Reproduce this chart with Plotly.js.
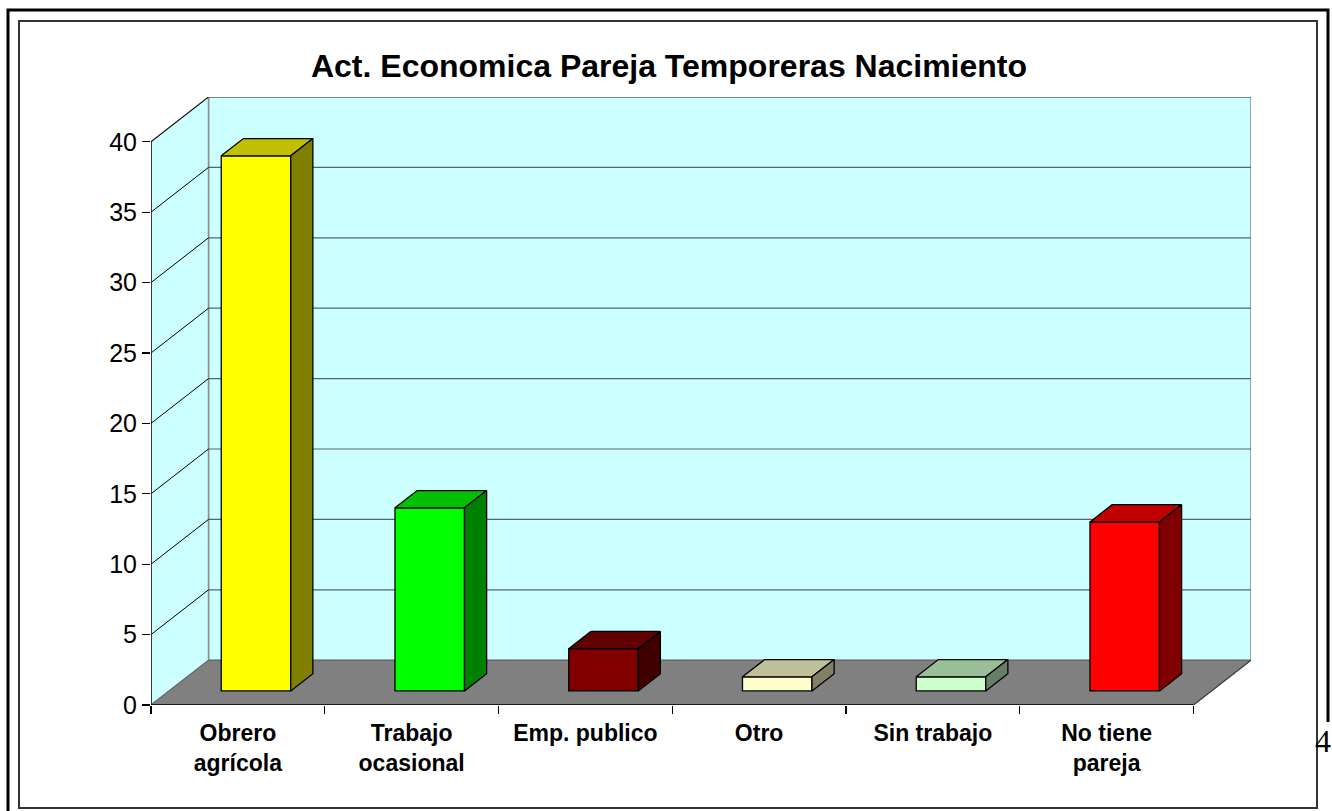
<!DOCTYPE html>
<html>
<head>
<meta charset="utf-8">
<script src="https://cdn.plot.ly/plotly-3.0.1.min.js"></script>
<style>html,body{margin:0;padding:0;background:#fff;}#chart{width:1332px;height:811px;}</style>
</head>
<body>
<div id="chart"></div>
<script>
// ---- data ----
const categories = ["Obrero<br>agrícola", "Trabajo<br>ocasional", "Emp. publico", "Otro", "Sin trabajo", "No tiene<br>pareja"];
const values = [38, 13, 3, 1, 1, 12];
const frontColors = ["#FFFF00", "#00FF00", "#800000", "#FFFFCC", "#CCFFCC", "#FF0000"];
const topColors   = ["#C0C000", "#00C000", "#600000", "#BFBF99", "#99BF99", "#C00000"];
const sideColors  = ["#808000", "#008000", "#400000", "#808066", "#668066", "#800000"];
const yTicks = [0, 5, 10, 15, 20, 25, 30, 35, 40];
const chartTitle = "Act. Economica Pareja Temporeras Nacimiento";

// ---- 3D projection settings ----
const DX = 0.331;   // depth offset along x (category units)
const DY = 3.18;    // depth offset along y (value units)
const YMAX = 40;
const BAR_W = 0.40, BAR_F = 0.315, BAR_D = 0.385;
const X0 = -0.5, X1 = categories.length - 0.5;

const idx = categories.map((_, i) => i);
const traces = [];

// front faces as bars
traces.push({
  type: "bar",
  x: idx.map(i => i + BAR_F * DX),
  y: values,
  base: values.map(() => BAR_F * DY),
  width: BAR_W,
  marker: { color: frontColors, line: { color: "#000", width: 1.3 } },
  hoverinfo: "skip",
  xaxis: "x", yaxis: "y"
});

// top and side faces
values.forEach((v, i) => {
  const xa = i - BAR_W / 2, xb = i + BAR_W / 2;
  const f = BAR_F, b = BAR_F + BAR_D;
  traces.push({
    type: "scatter", mode: "lines", fill: "toself",
    x: [xa + f * DX, xb + f * DX, xb + b * DX, xa + b * DX, xa + f * DX],
    y: [v + f * DY, v + f * DY, v + b * DY, v + b * DY, v + f * DY],
    fillcolor: topColors[i], line: { color: "#000", width: 1.3 },
    hoverinfo: "skip", showlegend: false
  });
  traces.push({
    type: "scatter", mode: "lines", fill: "toself",
    x: [xb + f * DX, xb + b * DX, xb + b * DX, xb + f * DX, xb + f * DX],
    y: [f * DY, b * DY, v + b * DY, v + f * DY, f * DY],
    fillcolor: sideColors[i], line: { color: "#000", width: 1.3 },
    hoverinfo: "skip", showlegend: false
  });
});

// ---- walls, floor, gridlines ----
const shapes = [];
shapes.push({ type: "path", layer: "below", xref: "x", yref: "y",
  path: `M ${X0 + DX} ${DY} L ${X1 + DX} ${DY} L ${X1 + DX} ${YMAX + DY} L ${X0 + DX} ${YMAX + DY} Z`,
  fillcolor: "#CCFFFF", line: { color: "#8C8C8C", width: 1.5 } });
shapes.push({ type: "path", layer: "below", xref: "x", yref: "y",
  path: `M ${X0} 0 L ${X0} ${YMAX} L ${X0 + DX} ${YMAX + DY} L ${X0 + DX} ${DY} Z`,
  fillcolor: "#CCFFFF", line: { color: "#8C8C8C", width: 1.5 } });
shapes.push({ type: "path", layer: "below", xref: "x", yref: "y",
  path: `M ${X0} 0 L ${X1} 0 L ${X1 + DX} ${DY} L ${X0 + DX} ${DY} Z`,
  fillcolor: "#808080", line: { color: "#606060", width: 1 } });
yTicks.filter(t => t > 0).forEach(t => {
  shapes.push({ type: "line", layer: "below", xref: "x", yref: "y",
    x0: X0 + DX, x1: X1 + DX, y0: t + DY, y1: t + DY, line: { color: "#556666", width: 1.2 } });
  shapes.push({ type: "line", layer: "below", xref: "x", yref: "y",
    x0: X0, x1: X0 + DX, y0: t, y1: t + DY, line: { color: "#000", width: 1 } });
});
shapes.push({ type: "line", layer: "below", xref: "x", yref: "y",
  x0: X0, x1: X0, y0: 0, y1: YMAX, line: { color: "#000", width: 1.3 } });
shapes.push({ type: "line", layer: "below", xref: "x", yref: "y",
  x0: X0, x1: X1, y0: 0, y1: 0, line: { color: "#000", width: 1.3 } });
shapes.push({ type: "line", layer: "below", xref: "x", yref: "y",
  x0: X1, x1: X1 + DX, y0: 0, y1: DY, line: { color: "#404040", width: 1.2 } });

// ---- page frame (pixel -> paper) ----
const ML = 151, MR = 81, MT = 97, MB = 106, W = 1332, H = 811;
const PW = W - ML - MR, PH = H - MT - MB;
const px = p => (p - ML) / PW, py = p => (H - MB - p) / PH;
shapes.push({ type: "rect", xref: "paper", yref: "paper", layer: "above",
  x0: px(19), x1: px(1317), y0: py(21), y1: py(808), line: { color: "#333", width: 2 } });
shapes.push({ type: "path", xref: "paper", yref: "paper", layer: "above",
  path: `M ${px(8)} ${py(815)} L ${px(8)} ${py(10)} L ${px(1328)} ${py(10)} L ${px(1328)} ${py(722)}`,
  line: { color: "#000", width: 3 } });

const layout = {
  width: W, height: H,
  margin: { l: ML, r: MR, t: MT, b: MB, pad: 0 },
  paper_bgcolor: "#fff", plot_bgcolor: "rgba(0,0,0,0)",
  showlegend: false,
  title: { text: chartTitle, xref: "container", yref: "container",
    x: 669 / W, y: 1 - 66 / H, xanchor: "center", yanchor: "middle",
    font: { family: "Liberation Sans, Arial, sans-serif", size: 32, color: "#000", weight: "bold" } },
  xaxis: { range: [X0, X1 + DX], tickvals: idx, ticktext: categories, ticks: "",
    ticklabelstandoff: 12,
    showgrid: false, zeroline: false, showline: false, fixedrange: true,
    tickfont: { family: "Liberation Sans, Arial, sans-serif", size: 23, color: "#000", weight: "bold" } },
  xaxis2: { overlaying: "x", anchor: "y", side: "bottom", range: [X0, X1 + DX],
    tickvals: idx.map(i => i - 0.5).concat([X1]),
    showticklabels: false, ticks: "outside", ticklen: 8, tickcolor: "#000", tickwidth: 1.3,
    showgrid: false, zeroline: false, showline: false },
  yaxis: { range: [0, YMAX + DY], tickvals: yTicks, ticks: "outside", ticklen: 8,
    tickcolor: "#000", tickwidth: 1.3, showgrid: false, zeroline: false, showline: false,
    tickfont: { family: "Liberation Sans, Arial, sans-serif", size: 25, color: "#000" } },
  shapes: shapes,
  annotations: [{ text: "4", xref: "paper", yref: "paper", x: px(1332), y: py(741),
    xanchor: "right", yanchor: "middle", showarrow: false, borderpad: 0,
    font: { family: "Liberation Serif, Times New Roman, serif", size: 32, color: "#000" } }]
};

// invisible point to activate the boundary-tick axis
traces.push({ type: "scatter", x: [X0], y: [0], xaxis: "x2", yaxis: "y", mode: "markers",
  marker: { opacity: 0 }, hoverinfo: "skip", showlegend: false });

Plotly.newPlot("chart", traces, layout, { displayModeBar: false, staticPlot: true });
</script>
</body>
</html>
